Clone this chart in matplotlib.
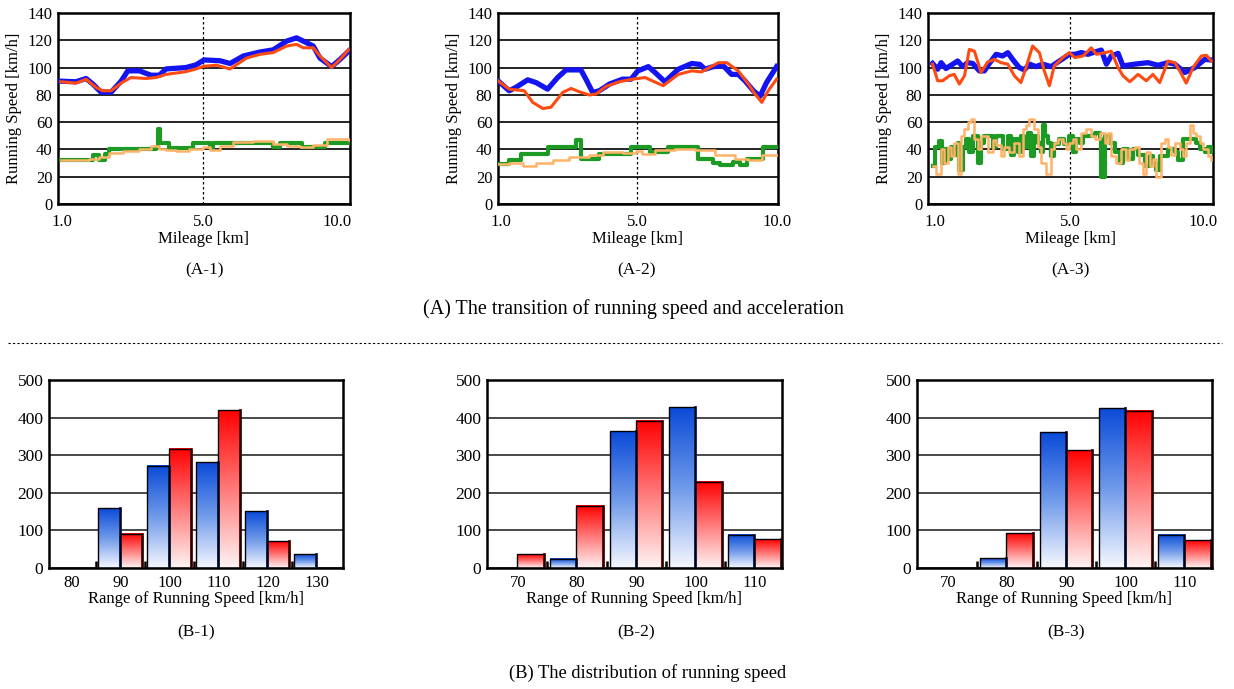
import numpy as np
import matplotlib
matplotlib.use('Agg')
import matplotlib.pyplot as plt
from matplotlib.colors import LinearSegmentedColormap
from matplotlib.patches import Rectangle
from matplotlib.lines import Line2D

plt.rcParams['font.family'] = ['Liberation Serif', 'DejaVu Serif']

# ---- (A) running speed along the section (position = fraction of the section) ----
a1_blue_x = [0.01, 0.062, 0.096, 0.119, 0.147, 0.182, 0.216, 0.239, 0.279, 0.318, 0.347, 0.370, 0.438,
             0.473, 0.50, 0.555, 0.589, 0.635, 0.692, 0.737, 0.783, 0.817, 0.840, 0.874, 0.897, 0.937,
             0.966, 0.995]
a1_blue_y = [90, 89.6, 92, 88, 82, 82, 90, 97.6, 97.6, 94.4, 94.4, 99, 100, 102, 105.6, 105, 103, 108.5,
             111.4, 113, 119.4, 121.8, 119.4, 115.8, 107, 100.7, 106, 112]
a1_red_x = [0.01, 0.062, 0.096, 0.130, 0.153, 0.182, 0.216, 0.250, 0.301, 0.336, 0.370, 0.438, 0.473,
            0.50, 0.543, 0.589, 0.646, 0.692, 0.737, 0.783, 0.817, 0.840, 0.874, 0.897, 0.937, 0.966, 0.995]
a1_red_y = [89.6, 88.6, 91.5, 85.5, 83, 83, 88.6, 92.7, 92, 92.7, 95, 97, 99, 101, 101.7, 99, 107, 109.7,
            111, 115.8, 117, 114.5, 114.5, 108.5, 100, 106, 113]
a1_green_x = [0.01, 0.119, 0.142, 0.160, 0.176, 0.337, 0.344, 0.350, 0.381, 0.461, 0.521, 0.532, 0.737,
              0.760, 0.834, 0.914, 0.995]
a1_green_y = [32, 36, 32, 37, 40, 41, 55, 45, 41, 45, 41, 45, 42, 45, 42, 45, 45]
a1_orange_x = [0.01, 0.062, 0.107, 0.142, 0.176, 0.222, 0.279, 0.318, 0.347, 0.370, 0.404, 0.450, 0.495,
               0.521, 0.555, 0.600, 0.669, 0.737, 0.783, 0.829, 0.874, 0.920, 0.995]
a1_orange_y = [32, 32, 33, 34.5, 37.7, 38.7, 40.6, 42.5, 40.6, 39.4, 38.7, 40, 41.8, 39.4, 42.5, 45.5, 46,
               44, 42.5, 41.8, 43.5, 47.4, 46.7]

a2_blue_x = [0.0, 0.040, 0.064, 0.106, 0.136, 0.177, 0.213, 0.243, 0.296, 0.314, 0.338, 0.362, 0.398,
             0.445, 0.475, 0.499, 0.537, 0.561, 0.596, 0.644, 0.692, 0.721, 0.739, 0.769, 0.805, 0.834,
             0.858, 0.882, 0.912, 0.936, 0.959, 0.995]
a2_blue_y = [90.3, 83, 85.5, 91, 89, 84.2, 92.7, 98.3, 98.3, 91.5, 81.8, 83, 87.9, 91.5, 91.5, 97.5, 100.7,
             96.4, 89.6, 98.8, 103, 102.3, 98.8, 100.7, 101.2, 95, 95, 90.3, 83, 79, 89, 100.7]
a2_red_x = [0.0, 0.040, 0.094, 0.124, 0.160, 0.189, 0.231, 0.261, 0.290, 0.326, 0.350, 0.386, 0.433, 0.481,
            0.525, 0.590, 0.644, 0.692, 0.727, 0.787, 0.817, 0.858, 0.894, 0.918, 0.942, 0.965, 0.995]
a2_red_y = [90.3, 84.2, 83, 74.5, 70, 70.9, 81.8, 84.7, 82.3, 79.9, 80.6, 86.2, 89.6, 91.5, 92.7, 86.7, 95,
            97.6, 96.8, 103.6, 103.6, 97.6, 87.9, 80.6, 74.5, 83, 91.5]
a2_green_x = [0.005, 0.040, 0.082, 0.177, 0.279, 0.296, 0.362, 0.475, 0.543, 0.608, 0.715, 0.769, 0.793,
              0.840, 0.864, 0.888, 0.948, 0.995]
a2_green_y = [29, 32, 37, 41.8, 46.7, 32.7, 37, 41.8, 38, 41.8, 33, 29.7, 28.5, 31, 28.5, 33, 41.8, 41.8]
a2_orange_x = [0.005, 0.040, 0.088, 0.136, 0.195, 0.255, 0.326, 0.374, 0.445, 0.493, 0.513, 0.561, 0.632,
               0.703, 0.775, 0.846, 0.894, 0.942, 0.995]
a2_orange_y = [29, 30.4, 28, 30.4, 32, 34.5, 35.7, 38, 37.5, 38.7, 37, 39.4, 40, 39.4, 35.7, 32.7, 32, 35.7,
               35.7]

a3_blue_x = [0.016, 0.034, 0.046, 0.063, 0.087, 0.104, 0.122, 0.139, 0.157, 0.180, 0.198, 0.215, 0.239,
             0.262, 0.280, 0.297, 0.320, 0.338, 0.356, 0.379, 0.402, 0.432, 0.461, 0.496, 0.515, 0.538,
             0.561, 0.585, 0.608, 0.626, 0.643, 0.667, 0.684, 0.725, 0.772, 0.807, 0.842, 0.866, 0.901,
             0.936, 0.971, 0.994]
a3_blue_y = [103, 98.8, 103.6, 99.3, 102.5, 104.8, 100.7, 103.6, 103, 97.6, 97.6, 103, 109.7, 108.5, 110.9,
             106, 100, 98.3, 102.5, 100.7, 102.5, 100.7, 104.8, 109.7, 109.7, 111, 109.7, 111.4, 112.8,
             102.5, 108.5, 110.4, 101.2, 102.5, 103.6, 101.7, 103.6, 102.5, 96.4, 100, 106, 105.6]
a3_red_x = [0.016, 0.034, 0.051, 0.075, 0.092, 0.110, 0.128, 0.145, 0.163, 0.186, 0.209, 0.233, 0.256,
            0.280, 0.303, 0.326, 0.344, 0.367, 0.391, 0.408, 0.426, 0.443, 0.473, 0.496, 0.515, 0.544,
            0.573, 0.591, 0.620, 0.643, 0.667, 0.684, 0.708, 0.737, 0.766, 0.789, 0.813, 0.842, 0.866,
            0.883, 0.906, 0.930, 0.959, 0.977, 0.994]
a3_red_y = [102.5, 90.3, 90.3, 94, 95, 87.9, 94, 113.3, 112, 96.4, 104, 106, 103.6, 102.5, 94, 89, 100,
            115.8, 110.9, 97.6, 86.7, 101.2, 107.3, 111, 107.3, 108.5, 114.5, 109.7, 110.9, 112, 100, 94,
            89.6, 95, 90.3, 95, 89, 104.8, 103.6, 97.6, 88.6, 100, 108.5, 109, 104.8]
a3_green_x = [0.016, 0.026, 0.037, 0.049, 0.061, 0.069, 0.081, 0.092, 0.104, 0.110, 0.122, 0.133, 0.145,
              0.157, 0.174, 0.186, 0.198, 0.227, 0.239, 0.262, 0.280, 0.291, 0.303, 0.315, 0.326, 0.338,
              0.350, 0.361, 0.373, 0.385, 0.397, 0.404, 0.410, 0.420, 0.432, 0.443, 0.461, 0.478, 0.496,
              0.509, 0.520, 0.532, 0.544, 0.585, 0.602, 0.608, 0.622, 0.637, 0.655, 0.672, 0.684, 0.702,
              0.719, 0.737, 0.760, 0.778, 0.789, 0.801, 0.813, 0.842, 0.865, 0.877, 0.895, 0.941, 0.953,
              0.971, 0.982, 0.994]
a3_green_y = [28, 42, 46, 30, 40, 33, 42, 36, 45, 25, 42, 48, 38, 50, 30, 45, 50, 42, 50, 40, 50, 36, 48,
              38, 50, 42, 52, 35, 50, 45, 38, 58, 50, 45, 35, 44, 48, 44, 50, 38, 48, 45, 50, 52, 48, 20,
              50, 45, 38, 30, 40, 33, 40, 36, 28, 35, 30, 25, 35, 40, 38, 32, 48, 45, 40, 38, 42, 38]
a3_orange_x = [0.016, 0.028, 0.046, 0.057, 0.069, 0.081, 0.092, 0.104, 0.116, 0.128, 0.139, 0.151, 0.163,
               0.174, 0.186, 0.209, 0.227, 0.239, 0.256, 0.268, 0.285, 0.303, 0.320, 0.332, 0.344, 0.356,
               0.373, 0.385, 0.397, 0.414, 0.432, 0.443, 0.455, 0.473, 0.484, 0.496, 0.509, 0.520, 0.538,
               0.555, 0.573, 0.585, 0.602, 0.620, 0.631, 0.643, 0.661, 0.678, 0.696, 0.707, 0.725, 0.742,
               0.754, 0.766, 0.778, 0.789, 0.801, 0.818, 0.830, 0.842, 0.854, 0.865, 0.883, 0.895, 0.906,
               0.918, 0.930, 0.941, 0.953, 0.965, 0.982, 0.994]
a3_orange_y = [28, 22, 40, 30, 42, 35, 45, 22, 50, 55, 60, 62, 48, 40, 50, 38, 47, 43, 35, 42, 38, 45, 35,
               55, 58, 62, 55, 42, 30, 22, 40, 45, 48, 45, 40, 45, 48, 40, 52, 55, 50, 48, 52, 45, 52, 35,
               30, 40, 32, 40, 42, 30, 22, 38, 28, 33, 20, 45, 48, 42, 36, 45, 40, 35, 45, 58, 52, 50, 45,
               40, 35, 32]

a_tick_labels = ['1.0', '5.0', '10.0']
a1_ticks = [0.015, 0.497, 0.955]
a2_ticks = [0.012, 0.496, 0.995]
a3_ticks = [0.025, 0.498, 0.965]

# ---- (B) distribution of running speed ----
b1_cats = ['80', '90', '100', '110', '120', '130']
b1_blue = [0, 159, 272, 281, 151, 37]
b1_red = [0, 91, 317, 419, 71, 0]
b2_cats = ['70', '80', '90', '100', '110']
b2_blue = [0, 24, 364, 427, 88]
b2_red = [37, 166, 392, 230, 76]
b3_cats = ['70', '80', '90', '100', '110']
b3_blue = [0, 26, 361, 425, 89]
b3_red = [0, 93, 313, 418, 74]

W, H = 1234, 689
fig = plt.figure(figsize=(W / 100, H / 100), dpi=100)


def box(l, t, r, b):
    return [l / W, 1 - b / H, (r - l) / W, (b - t) / H]


def speed_panel(rect, data, ticks):
    ax = fig.add_axes(rect)
    bx, by, rx, ry, gx, gy, ox, oy = data
    ax.plot(gx, gy, drawstyle='steps-post', color='#1c9a24', lw=3.0, zorder=3)
    ax.plot(ox, oy, drawstyle='steps-post', color='#ffb366', lw=1.8, zorder=4)
    ax.plot(bx, by, color='#1414f0', lw=3.8, zorder=5)
    ax.plot(rx, ry, color='#ff4a12', lw=2.2, zorder=6)
    ax.set_xlim(0, 1)
    ax.set_ylim(0, 140)
    ax.set_yticks(range(0, 141, 20))
    ax.yaxis.grid(True, color='black', lw=1.2)
    ax.set_axisbelow(True)
    ax.axvline(ticks[1], color='black', lw=0.9, ls=(0, (2, 2)), zorder=2)
    ax.set_xticks(ticks)
    ax.set_xticklabels(a_tick_labels)
    ax.tick_params(axis='y', length=0, labelsize=12, pad=4)
    ax.tick_params(axis='x', length=0, labelsize=12, pad=7)
    ax.set_ylabel('Running Speed [km/h]', fontsize=12, labelpad=4)
    ax.set_xlabel('Mileage [km]', fontsize=12, labelpad=1)
    for s in ax.spines.values():
        s.set_linewidth(1.8)
    return ax


blue_cmap = LinearSegmentedColormap.from_list('bl', ['#f6f8ff', '#6f9aea', '#0a4ad8'])
red_cmap = LinearSegmentedColormap.from_list('rd', ['#fff4f4', '#ff7a7a', '#ff0000'])
grad = np.linspace(1, 0, 256).reshape(-1, 1)


def gbar(ax, x0, w, h, cmap, shade):
    if h <= 0:
        return
    ax.imshow(grad, extent=(x0, x0 + w, 0, h), cmap=cmap, aspect='auto', zorder=2, vmin=0, vmax=1)
    ax.plot([x0 + w, x0 + w], [0, h], color=shade, lw=2.0, zorder=3)
    ax.add_patch(Rectangle((x0, 0), w, h, fill=False, ec='black', lw=1.0, zorder=4))


def dist_panel(rect, cats, blue, red, xlim):
    ax = fig.add_axes(rect)
    n = len(cats)
    for i in range(n):
        gbar(ax, i - 0.45, 0.44, blue[i], blue_cmap, '#0a2a70')
        gbar(ax, i - 0.01, 0.45, red[i], red_cmap, '#7a0000')
    ax.set_xlim(*xlim)
    ax.set_ylim(0, 500)
    ax.set_yticks(range(0, 501, 100))
    ax.yaxis.grid(True, color='#3a3a3a', lw=1.3)
    ax.set_axisbelow(True)
    ax.set_xticks(range(n))
    ax.set_xticklabels(cats)
    ax.set_xticks([i + 0.5 for i in range(n - 1)], minor=True)
    ax.tick_params(axis='y', which='major', length=0, labelsize=12.5, pad=4)
    ax.tick_params(axis='x', which='major', length=0, labelsize=12, pad=5)
    ax.tick_params(axis='x', which='minor', direction='in', length=5, width=1.8, color='black')
    ax.set_xlabel('Range of Running Speed [km/h]', fontsize=12, labelpad=0)
    for s in ax.spines.values():
        s.set_linewidth(1.8)
    return ax


speed_panel(box(58, 13, 350, 204),
            (a1_blue_x, a1_blue_y, a1_red_x, a1_red_y, a1_green_x, a1_green_y, a1_orange_x, a1_orange_y),
            a1_ticks)
speed_panel(box(498, 13, 778, 204),
            (a2_blue_x, a2_blue_y, a2_red_x, a2_red_y, a2_green_x, a2_green_y, a2_orange_x, a2_orange_y),
            a2_ticks)
speed_panel(box(928, 13, 1213, 204),
            (a3_blue_x, a3_blue_y, a3_red_x, a3_red_y, a3_green_x, a3_green_y, a3_orange_x, a3_orange_y),
            a3_ticks)

dist_panel(box(49, 380, 343, 568), b1_cats, b1_blue, b1_red, (-0.46, 5.54))
dist_panel(box(487, 380, 782, 568), b2_cats, b2_blue, b2_red, (-0.52, 4.46))
dist_panel(box(917, 380, 1212, 568), b3_cats, b3_blue, b3_red, (-0.52, 4.46))

# captions
def cap(x, y, s, size=12.5):
    fig.text(x / W, 1 - y / H, s, ha='center', va='center', fontsize=size)


cap(204, 270, '(A-1)')
cap(637, 270, '(A-2)')
cap(1070, 270, '(A-3)')
cap(633, 309, '(A) The transition of running speed and acceleration', 14.5)
cap(196, 632, '(B-1)')
cap(636, 632, '(B-2)')
cap(1066, 632, '(B-3)')
cap(648, 673, '(B) The distribution of running speed', 13.3)

fig.add_artist(Line2D([8 / W, 1222 / W], [1 - 343 / H] * 2, color='black', lw=0.8, ls=(0, (2, 2))))

fig.savefig('out.png', dpi=100)
